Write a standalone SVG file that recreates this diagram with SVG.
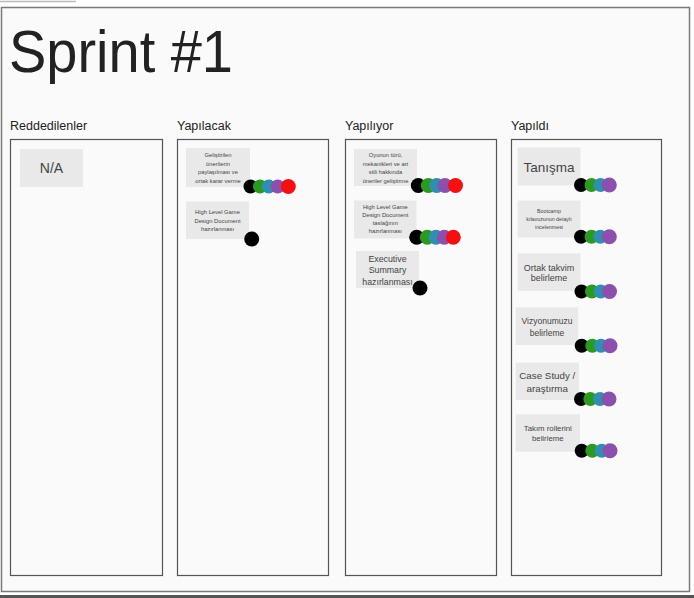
<svg xmlns="http://www.w3.org/2000/svg" width="694" height="598" viewBox="0 0 694 598">
<style>
text{font-family:"Liberation Sans",Arial,sans-serif;fill:#222}
.col{fill:none;stroke:#555;stroke-width:1.2}
.card{fill:#e9e9e9}
.ct{text-anchor:middle;fill:#444}
.hd{font-size:12.5px;fill:#222}
.k{fill:#000}.g{fill:#2a9b1d}.b{fill:#2f8fb3}.p{fill:#8c4fae}.r{fill:#f41010}
</style>
<rect width="694" height="598" fill="#fff"/>
<line x1="0" y1="1.5" x2="76" y2="1.5" stroke="#bbb" stroke-width="1.5"/>
<rect x="1.5" y="7.5" width="688" height="584" fill="#fafafa" stroke="#7a7a7a" stroke-width="1.5"/>
<rect x="0" y="595" width="694" height="3" fill="#555"/>
<text x="9" y="72" font-size="60" textLength="224" lengthAdjust="spacingAndGlyphs" fill="#111">Sprint #1</text>
<g id="columns">
<g id="col-reddedilenler"><text class="hd" x="10" y="130">Reddedilenler</text><rect class="col" x="10.5" y="139.5" width="152" height="436"/></g>
<g id="col-yapilacak"><text class="hd" x="177" y="130">Yapılacak</text><rect class="col" x="177.5" y="139.5" width="151" height="436"/></g>
<g id="col-yapiliyor"><text class="hd" x="345" y="130">Yapılıyor</text><rect class="col" x="345.5" y="139.5" width="151" height="436"/></g>
<g id="col-yapildi"><text class="hd" x="511" y="130">Yapıldı</text><rect class="col" x="511.5" y="139.5" width="150" height="436"/></g>
</g>
<g id="card-na"><rect class="card" x="20" y="149" width="63" height="38"/><text class="ct" x="51.5" y="173" font-size="14">N/A</text></g>
<g id="card-gelistirilen">
<rect class="card" x="186" y="148" width="64" height="39"/>
<text class="ct" font-size="5.8"><tspan x="218" y="157">Geliştirilen</tspan><tspan x="218" y="165.5">önerilerin</tspan><tspan x="218" y="174">paylaşılması ve</tspan><tspan x="218" y="182.5">ortak karar verme</tspan></text>
<circle class="k" cx="250.5" cy="186.5" r="7"/><circle class="g" cx="260" cy="186.5" r="7"/><circle class="b" cx="268.7" cy="186.5" r="7"/><circle class="p" cx="277.7" cy="186.5" r="7"/><circle class="r" cx="288.3" cy="186.5" r="7.5"/>
</g>
<g id="card-hlgdd1">
<rect class="card" x="186" y="201.5" width="63" height="37.5"/>
<text class="ct" font-size="5.8"><tspan x="217.5" y="214">High Level Game</tspan><tspan x="217.5" y="222.5">Design Document</tspan><tspan x="217.5" y="231">hazırlanması</tspan></text>
<circle class="k" cx="251.7" cy="239" r="7.5"/>
</g>
<g id="card-oyunun">
<rect class="card" x="354" y="149" width="63" height="37"/>
<text class="ct" font-size="5.8"><tspan x="385.5" y="157">Oyunun türü,</tspan><tspan x="385.5" y="165.5">mekanikleri ve art</tspan><tspan x="385.5" y="174">stili hakkında</tspan><tspan x="385.5" y="182.5">öneriler geliştirme</tspan></text>
<circle class="k" cx="418.3" cy="185.5" r="7.5"/><circle class="g" cx="428.3" cy="185.5" r="7.5"/><circle class="b" cx="436.7" cy="185.5" r="7.5"/><circle class="p" cx="445" cy="185.5" r="7.5"/><circle class="r" cx="455.5" cy="185.5" r="7.5"/>
</g>
<g id="card-hlgdd2">
<rect class="card" x="354" y="200.5" width="62.5" height="38"/>
<text class="ct" font-size="5.8"><tspan x="385.3" y="208.7">High Level Game</tspan><tspan x="385.3" y="217">Design Document</tspan><tspan x="385.3" y="224.7">taslağının</tspan><tspan x="385.3" y="233">hazırlanması</tspan></text>
<circle class="k" cx="416.7" cy="237.3" r="7.5"/><circle class="g" cx="427.3" cy="237.3" r="7.5"/><circle class="b" cx="436" cy="237.3" r="7.5"/><circle class="p" cx="444.3" cy="237.3" r="7.5"/><circle class="r" cx="453.3" cy="237.3" r="7.5"/>
</g>
<g id="card-executive">
<rect class="card" x="356" y="251" width="63" height="37"/>
<text class="ct" font-size="8.8"><tspan x="387.5" y="261.5">Executive</tspan><tspan x="387.5" y="273">Summary</tspan><tspan x="387.5" y="284.5">hazırlanması</tspan></text>
<circle class="k" cx="420" cy="288" r="7.5"/>
</g>
<g id="card-tanisma">
<rect class="card" x="517.5" y="147.5" width="63" height="38"/>
<text class="ct" x="549" y="171.5" font-size="13.5">Tanışma</text>
<circle class="k" cx="581" cy="185" r="7"/><circle class="g" cx="591.5" cy="185" r="7"/><circle class="b" cx="600.5" cy="185" r="7"/><circle class="p" cx="609.3" cy="185" r="7.5"/>
</g>
<g id="card-bootcamp">
<rect class="card" x="517.5" y="200.5" width="63" height="37"/>
<text class="ct" font-size="5.3"><tspan x="549" y="212.5">Bootcamp</tspan><tspan x="549" y="220.7">kılavuzunun detaylı</tspan><tspan x="549" y="228.8">incelenmesi</tspan></text>
<circle class="k" cx="581" cy="236.7" r="7"/><circle class="g" cx="591.5" cy="236.7" r="7"/><circle class="b" cx="600.3" cy="236.7" r="7"/><circle class="p" cx="609.3" cy="236.7" r="7.5"/>
</g>
<g id="card-ortak">
<rect class="card" x="517.5" y="253.3" width="63" height="37.5"/>
<text class="ct" font-size="9"><tspan x="549" y="270.5">Ortak takvim</tspan><tspan x="549" y="280.5">belirleme</tspan></text>
<circle class="k" cx="581.5" cy="291.5" r="7"/><circle class="g" cx="592" cy="291.5" r="7"/><circle class="b" cx="600.7" cy="291.5" r="7"/><circle class="p" cx="609.5" cy="291.5" r="7.5"/>
</g>
<g id="card-vizyon">
<rect class="card" x="515.7" y="307.3" width="62.5" height="37.7"/>
<text class="ct" font-size="8.5"><tspan x="547" y="323.8">Vizyonumuzu</tspan><tspan x="547" y="335.8">belirleme</tspan></text>
<circle class="k" cx="581.7" cy="345.7" r="7"/><circle class="g" cx="592.3" cy="345.7" r="7"/><circle class="b" cx="601" cy="345.7" r="7"/><circle class="p" cx="610" cy="345.7" r="7.5"/>
</g>
<g id="card-case">
<rect class="card" x="515.7" y="362.7" width="63.3" height="37.3"/>
<text class="ct" font-size="9.8"><tspan x="547.3" y="378.5">Case Study /</tspan><tspan x="547.3" y="391.8">araştırma</tspan></text>
<circle class="k" cx="581" cy="399" r="7"/><circle class="g" cx="590.3" cy="399" r="7"/><circle class="b" cx="600" cy="399" r="7"/><circle class="p" cx="609" cy="399" r="7.5"/>
</g>
<g id="card-takim">
<rect class="card" x="515.7" y="414.3" width="64.3" height="37.4"/>
<text class="ct" font-size="7.8"><tspan x="547.8" y="430.5">Takım rollerini</tspan><tspan x="547.8" y="441">belirleme</tspan></text>
<circle class="k" cx="581.7" cy="450.7" r="7"/><circle class="g" cx="592.3" cy="450.7" r="7"/><circle class="b" cx="601.7" cy="450.7" r="7"/><circle class="p" cx="610" cy="450.7" r="7.5"/>
</g>
<g id="connectors"></g>
</svg>
